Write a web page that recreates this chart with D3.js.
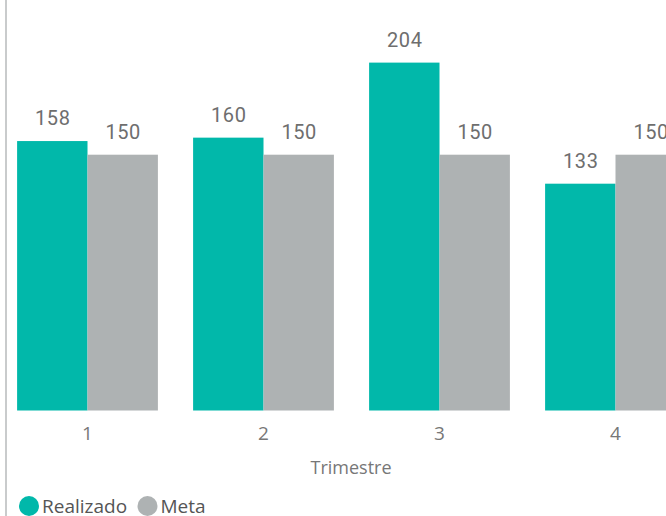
<!DOCTYPE html>
<html>
<head>
<meta charset="utf-8">
<script src="https://cdn.jsdelivr.net/npm/d3@7"></script>
<style>
  html, body { margin: 0; padding: 0; background: #fff; }
  svg { display: block; }
</style>
</head>
<body>
<svg id="chart" width="666" height="516"></svg>
<script>
const categories = ["1", "2", "3", "4"];
const seriesNames = ["Realizado", "Meta"];
const realizado = [158, 160, 204, 133];
const meta = [150, 150, 150, 150];
const axisTitle = "Trimestre";
const colors = ["#01B8AA", "#AEB2B3"];

const svg = d3.select("#chart");
const W = 666, H = 516;
const baseY = 410.5;

const data = categories.map((c, i) => ({ cat: c, values: [realizado[i], meta[i]] }));

const x0 = d3.scaleBand().domain(categories).range([-0.5, 703.5]).paddingInner(0.2).paddingOuter(0.1);
const x1 = d3.scaleBand().domain(seriesNames).range([0, x0.bandwidth()]).padding(0);
const y = d3.scaleLinear().domain([0, 150]).range([baseY, 154.7]);
const color = d3.scaleOrdinal().domain(seriesNames).range(colors);

// left border line
svg.append("line").attr("x1", 6).attr("x2", 6).attr("y1", 0).attr("y2", H)
  .attr("stroke", "#c9cbcc").attr("stroke-width", 2);

const plot = svg.append("g");
const groups = plot.selectAll("g.grp").data(data).join("g")
  .attr("class", "grp")
  .attr("transform", d => `translate(${x0(d.cat)},0)`);

groups.selectAll("rect").data(d => d.values.map((v, j) => ({ s: seriesNames[j], v })))
  .join("rect")
  .attr("x", d => x1(d.s))
  .attr("y", d => y(d.v))
  .attr("width", x1.bandwidth())
  .attr("height", d => baseY - y(d.v))
  .attr("fill", d => color(d.s));

groups.selectAll("text.lbl").data(d => d.values.map((v, j) => ({ s: seriesNames[j], v })))
  .join("text")
  .attr("class", "lbl")
  .attr("x", d => x1(d.s) + x1.bandwidth() / 2 + 0.5)
  .attr("y", d => y(d.v) - 16)
  .attr("text-anchor", "middle")
  .attr("font-family", "Roboto, sans-serif")
  .attr("font-size", 20)
  .attr("letter-spacing", 0.6)
  .attr("fill", "#6e6e6e")
  .text(d => d.v);

// x axis
const xAxis = d3.axisBottom(x0).tickSize(0).tickPadding(16);
const ax = svg.append("g").attr("transform", `translate(0,${baseY})`).call(xAxis);
ax.select(".domain").remove();
ax.selectAll("text")
  .attr("font-family", "'Open Sans', sans-serif")
  .attr("font-size", 19)
  .attr("fill", "#777");

svg.append("text")
  .attr("x", 351).attr("y", 474)
  .attr("text-anchor", "middle")
  .attr("font-family", "'Open Sans', sans-serif")
  .attr("font-size", 18)
  .attr("fill", "#777")
  .text(axisTitle);

// legend
const legendX = [29, 147.5];
const leg = svg.append("g");
seriesNames.forEach((s, i) => {
  leg.append("circle").attr("cx", legendX[i]).attr("cy", 506).attr("r", 10).attr("fill", colors[i]);
  leg.append("text")
    .attr("x", legendX[i] + 13).attr("y", 513)
    .attr("font-family", "'Open Sans', sans-serif")
    .attr("font-size", 19)
    .attr("fill", "#555")
    .text(s);
});
</script>
</body>
</html>
